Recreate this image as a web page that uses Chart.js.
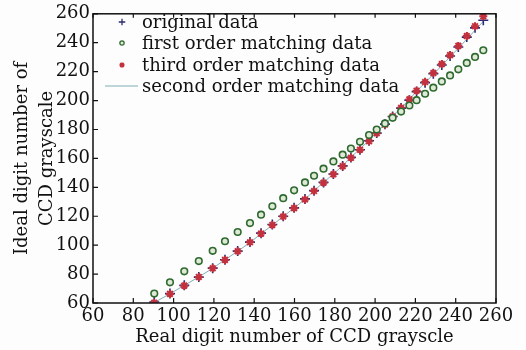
<!DOCTYPE html>
<html>
<head>
<meta charset="utf-8">
<script src="https://cdn.jsdelivr.net/npm/chart.js@4.4.1/dist/chart.umd.min.js"></script>
<style>
    html, body { margin: 0; padding: 0; background: #fdfdfd; }
    #wrap { width: 526px; height: 350px; }
</style>
</head>
<body>
<div id="wrap"><canvas id="grayChart" width="526" height="350"></canvas></div>
<script>
// Real digit number (x) for every sample
const realGray = [90.4, 98.2, 105.3, 112.5, 119.4, 125.5, 131.8, 137.9, 143.4, 149.0,
    154.4, 159.8, 165.2, 169.7, 174.4, 179.3, 183.9, 188.0, 192.5, 197.0,
    200.8, 204.9, 208.7, 212.9, 217.0, 220.6, 224.8, 228.9, 233.1, 237.2,
    241.3, 245.5, 249.6, 253.7];

// Ideal digit number (y) series
const originalData = [60.7, 66.5, 72.2, 77.9, 84.1, 89.9, 95.9, 102.1, 108.3, 114.3,
    120.0, 125.8, 132.0, 137.7, 143.4, 149.2, 154.8, 160.7, 166.0, 172.2,
    177.5, 183.7, 189.0, 194.8, 200.3, 206.2, 212.4, 218.6, 224.6, 230.8,
    237.0, 243.9, 250.3, 255.5];
const firstOrder = [66.5, 74.3, 81.9, 89.0, 96.1, 102.7, 109.1, 115.3, 121.1, 126.9,
    132.5, 137.9, 143.4, 148.0, 152.9, 157.9, 162.6, 166.8, 171.5, 176.1,
    180.0, 184.2, 188.1, 192.4, 196.6, 200.3, 204.7, 208.9, 213.2, 217.4,
    221.6, 226.0, 230.2, 234.8];
const thirdOrder = [60.2, 66.3, 72.0, 78.0, 84.0, 89.8, 95.8, 102.0, 108.0, 114.0,
    119.8, 125.6, 131.6, 137.4, 143.2, 149.0, 154.6, 160.4, 166.0, 171.8,
    177.4, 183.4, 189.0, 195.0, 200.8, 206.8, 212.8, 219.0, 225.2, 231.4,
    237.8, 244.6, 251.4, 258.3];
const secondOrder = [60.3, 66.4, 72.2, 78.0, 84.0, 89.9, 95.8, 101.8, 107.9, 113.9,
    119.8, 125.7, 131.7, 137.6, 143.4, 149.2, 155.0, 160.8, 166.6, 172.4,
    178.0, 183.7, 189.3, 195.0, 200.7, 206.5, 212.3, 218.2, 224.2, 230.2,
    236.2, 242.4, 248.6, 254.8];

const seriesNames = ['original data', 'first order matching data',
    'third order matching data', 'second order matching data'];

const axisMin = 60;
const axisMax = 260;
const tickStep = 20;

const serif = "'DejaVu Serif', 'Liberation Serif', serif";

function pairs(ys) {
    return realGray.map((x, i) => ({ x: x, y: ys[i] }));
}

// Box frame, inward ticks and the legend inside the plot
const framePlugin = {
    id: 'frame',
    afterDraw(chart) {
        const ctx = chart.ctx;
        const a = chart.chartArea;
        const xs = chart.scales.x;
        const ys = chart.scales.y;
        ctx.save();
        ctx.strokeStyle = '#111';
        ctx.lineWidth = 1.5;
        ctx.strokeRect(a.left, a.top, a.right - a.left, a.bottom - a.top);

        ctx.lineWidth = 1.2;
        ctx.beginPath();
        xs.ticks.forEach(t => {
            const px = xs.getPixelForValue(t.value);
            ctx.moveTo(px, a.bottom); ctx.lineTo(px, a.bottom - 5);
            ctx.moveTo(px, a.top); ctx.lineTo(px, a.top + 4);
        });
        ys.ticks.forEach(t => {
            const py = ys.getPixelForValue(t.value);
            ctx.moveTo(a.left, py); ctx.lineTo(a.left + 5, py);
        });
        ctx.stroke();

        // legend
        const rowY = [22, 43, 65, 86];
        const markX = 122;
        const textX = 142;
        ctx.font = '18px ' + serif;
        ctx.textBaseline = 'middle';
        ctx.textAlign = 'left';
        chart.data.datasets.forEach((ds, i) => {
            const y = rowY[i];
            if (ds.showLine) {
                ctx.strokeStyle = ds.borderColor;
                ctx.lineWidth = 1;
                ctx.beginPath();
                ctx.moveTo(105, y); ctx.lineTo(138, y);
                ctx.stroke();
            } else if (Chart.helpers && Chart.helpers.drawPoint) {
                ctx.strokeStyle = ds.borderColor;
                ctx.fillStyle = ds.backgroundColor;
                ctx.lineWidth = ds.borderWidth * 0.8;
                Chart.helpers.drawPoint(ctx, {
                    pointStyle: ds.pointStyle,
                    radius: ds.pointRadius * 0.65,
                    borderWidth: ds.borderWidth * 0.8,
                    rotation: 0
                }, markX, y);
            }
            ctx.fillStyle = '#111';
            ctx.fillText(ds.label, textX, y + 1);
        });
        ctx.restore();
    }
};

const ctx = document.getElementById('grayChart').getContext('2d');
new Chart(ctx, {
    type: 'scatter',
    data: {
        datasets: [
            {
                label: seriesNames[0],
                data: pairs(originalData),
                pointStyle: 'cross',
                pointRadius: 5,
                borderColor: '#2b2a72',
                backgroundColor: '#2b2a72',
                borderWidth: 1.6,
                order: 3
            },
            {
                label: seriesNames[1],
                data: pairs(firstOrder),
                pointStyle: 'circle',
                pointRadius: 3.3,
                borderColor: '#2f6a30',
                backgroundColor: '#dfead6',
                borderWidth: 1.6,
                order: 1
            },
            {
                label: seriesNames[2],
                data: pairs(thirdOrder),
                pointStyle: 'star',
                pointRadius: 4,
                borderColor: '#c2313d',
                backgroundColor: '#c2313d',
                borderWidth: 2,
                order: 2
            },
            {
                label: seriesNames[3],
                data: pairs(secondOrder),
                showLine: true,
                pointRadius: 0,
                borderColor: '#7eaeb6',
                backgroundColor: '#7eaeb6',
                borderWidth: 1,
                order: 4
            }
        ]
    },
    options: {
        responsive: false,
        animation: false,
        layout: { padding: { top: 12, right: 30, left: 0, bottom: 0 } },
        plugins: {
            legend: { display: false },
            tooltip: { enabled: false }
        },
        scales: {
            x: {
                type: 'linear',
                min: axisMin,
                max: axisMax,
                grid: { display: false, drawTicks: false },
                border: { display: false },
                ticks: {
                    stepSize: tickStep,
                    autoSkip: false,
                    maxRotation: 0,
                    minRotation: 0,
                    color: '#111',
                    padding: 3,
                    font: { family: serif, size: 18 }
                },
                title: {
                    display: true,
                    text: 'Real digit number of CCD grayscle',
                    color: '#111',
                    font: { family: serif, size: 18, lineHeight: 1.2 },
                    padding: { top: 0, bottom: 2 }
                },
                afterFit(scale) { scale.height = 47; }
            },
            y: {
                type: 'linear',
                min: axisMin,
                max: axisMax,
                grid: { display: false, drawTicks: false },
                border: { display: false },
                ticks: {
                    stepSize: tickStep,
                    color: '#111',
                    padding: 3,
                    font: { family: serif, size: 18 }
                },
                title: {
                    display: true,
                    text: ['Ideal digit number of', 'CCD grayscale'],
                    color: '#111',
                    font: { family: serif, size: 18, lineHeight: 1.39 },
                    padding: { top: 10, bottom: 0 }
                },
                afterFit(scale) { scale.width = 93; }
            }
        }
    },
    plugins: [framePlugin]
});
</script>
</body>
</html>
